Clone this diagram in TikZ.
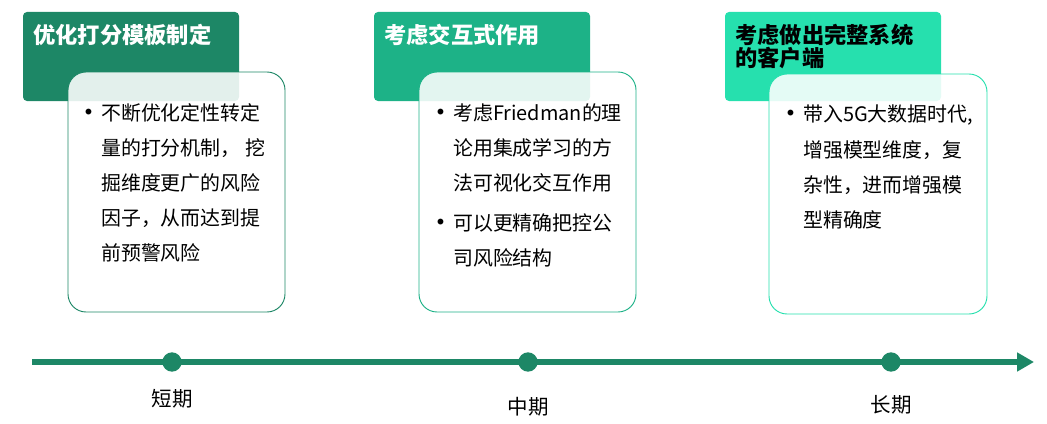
\documentclass[tikz,border=0pt]{standalone}
\usepackage{fontspec}
\setmainfont{Noto Sans CJK SC}
\usetikzlibrary{arrows.meta, positioning}

% colori delle tre fasi
\definecolor{verdescuro}{HTML}{1D8766}
\definecolor{verdemedio}{HTML}{1DB287}
\definecolor{verdechiaro}{HTML}{26E0AE}

% punto dell'elenco
\newcommand{\voce}{\llap{\raisebox{5.2pt}{\fontsize{5.5}{6}\selectfont ●}\hspace{8pt}}}

\begin{document}
\begin{tikzpicture}[x=0.03cm, y=-0.03cm,
        titolo/.style={font=\bfseries\fontsize{19}{20}\selectfont, anchor=base west, inner sep=0, align=left},
        testo/.style={font=\fontsize{17}{30}\selectfont, anchor=base west, inner sep=0, align=left},
        fascia/.style={rounded corners=0.12cm},
        scheda/.style={line width=0.8pt, fill=white, fill opacity=0.88, rounded corners=0.54cm},
        punto/.style={circle, fill=verdescuro, inner sep=0, minimum size=0.58cm},
        etichetta/.style={font=\fontsize{17.5}{20}\selectfont, anchor=base, inner sep=0}]

        \useasboundingbox (0,0) rectangle (1047,423);

        % ==========================================
        % PRIMA COLONNA: breve periodo
        % ==========================================
        % (la base del nodo e' sulla sua ultima riga)
        \fill[verdescuro, fascia] (23,12) rectangle (239,101);
        \node[titolo, white] (titolo1) at (33,43.4) {优化打分模板制定};
        \draw[verdescuro, scheda] (68,72) rectangle (285,312);
        \node[testo] (testo1) at (101,260.7) {\voce 不断优化定性转定\\量的打分机制， 挖\\掘维度更广的风险\\因子，从而达到提\\前预警风险};

        % ==========================================
        % SECONDA COLONNA: medio periodo
        % ==========================================
        \fill[verdemedio, fascia] (374,12) rectangle (590,101);
        \node[titolo, white] (titolo2) at (384,43.4) {考虑交互式作用};
        \draw[verdemedio, scheda] (419,72) rectangle (636,312);
        \node[testo] (testo2) at (453,265.4) {\voce 考虑Friedman的理\\论用集成学习的方\\法可视化交互作用\\[4pt]\voce 可以更精确把控公\\司风险结构};

        % ==========================================
        % TERZA COLONNA: lungo periodo
        % ==========================================
        \fill[verdechiaro, fascia] (725,12) rectangle (941,101);
        \node[titolo, black] (titolo3) at (735,66.9) {考虑做出完整系统\\的客户端};
        \draw[verdechiaro, scheda] (769,74) rectangle (987,314);
        \node[testo] (testo3) at (803,227.3) {\voce 带入5G大数据时代,\\增强模型维度，复\\杂性，进而增强模\\型精确度};

        % ==========================================
        % LINEA DEL TEMPO
        % ==========================================
        \coordinate (inizio) at (32,362);
        \coordinate (fine) at (1034,362);
        \draw[verdescuro, line width=5pt, -{Triangle[length=14.5pt, width=15.5pt]}] (inizio) -- (fine);

        \node[punto] (breve) at (172,362) {};
        \node[punto] (medio) at (528,362) {};
        \node[punto] (lungo) at (891,362) {};

        \node[etichetta] (lbreve) at (172,406) {短期};
        \node[etichetta] (lmedio) at (528,414) {中期};
        \node[etichetta] (llungo) at (891,412) {长期};

    \end{tikzpicture}
\end{document}
